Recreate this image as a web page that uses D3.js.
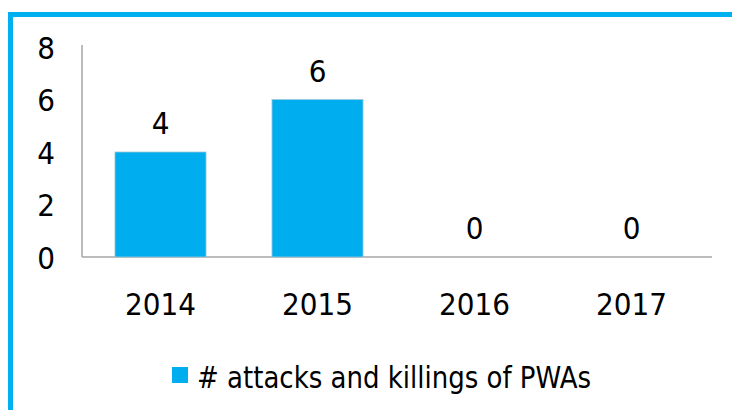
<!DOCTYPE html>
<html>
<head>
<meta charset="utf-8">
<script src="https://cdn.jsdelivr.net/npm/d3@7"></script>
<style>
  body { margin: 0; background: #fff; }
  svg { display: block; }
  text { font-family: "DejaVu Sans Condensed", "Liberation Sans", sans-serif; fill: #000; }
</style>
</head>
<body>
<svg id="chart"></svg>
<script>
const years = ['2014', '2015', '2016', '2017'];
const attacks = [4, 6, 0, 0];
const yTicks = [0, 2, 4, 6, 8];
const seriesName = '# attacks and killings of PWAs';

const width = 732, height = 410;
const blue = '#00AEEF';

const svg = d3.select('#chart')
    .attr('width', width)
    .attr('height', height);

// frame in blue, cut off at the right and bottom
svg.append('rect')
    .attr('x', 10.5).attr('y', 14.5)
    .attr('width', width + 20).attr('height', height + 20)
    .attr('fill', '#fff')
    .attr('stroke', '#00B0F0')
    .attr('stroke-width', 5);

const x = d3.scaleBand()
    .domain(years)
    .range([82, 710])
    .paddingInner(0.42)
    .paddingOuter(0.21);

const y = d3.scaleLinear()
    .domain([0, 8])
    .range([257, 47]);

// axes lines
svg.append('line')
    .attr('x1', 82).attr('x2', 82)
    .attr('y1', 45).attr('y2', y(0))
    .attr('stroke', '#a6a6a6').attr('stroke-width', 1.5);
svg.append('line')
    .attr('x1', 82).attr('x2', 712)
    .attr('y1', y(0)).attr('y2', y(0))
    .attr('stroke', '#a6a6a6').attr('stroke-width', 1.5);

// y tick labels
svg.append('g').selectAll('text')
    .data(yTicks)
    .enter().append('text')
    .attr('x', 46)
    .attr('y', d => y(d) + 11.5)
    .attr('text-anchor', 'middle')
    .style('font-size', '31px')
    .text(d => d);

// x tick labels
svg.append('g').selectAll('text')
    .data(years)
    .enter().append('text')
    .attr('x', d => x(d) + x.bandwidth() / 2)
    .attr('y', 315)
    .attr('text-anchor', 'middle')
    .style('font-size', '31px')
    .text(d => d);

// bars
svg.append('g').selectAll('rect')
    .data(attacks)
    .enter().append('rect')
    .attr('x', (d, i) => x(years[i]))
    .attr('y', d => y(d))
    .attr('width', x.bandwidth())
    .attr('height', d => y(0) - y(d))
    .attr('fill', blue)
    .attr('stroke', '#9ec9d9')
    .attr('stroke-width', d => d > 0 ? 0.8 : 0);

// value labels
svg.append('g').selectAll('text')
    .data(attacks)
    .enter().append('text')
    .attr('x', (d, i) => x(years[i]) + x.bandwidth() / 2)
    .attr('y', d => y(d) - 18)
    .attr('text-anchor', 'middle')
    .style('font-size', '31px')
    .text(d => d);

// legend
svg.append('rect')
    .attr('x', 172).attr('y', 367)
    .attr('width', 16).attr('height', 16)
    .attr('fill', blue);
svg.append('text')
    .attr('x', 197).attr('y', 388)
    .style('font-size', '31px')
    .attr('textLength', 394)
    .attr('lengthAdjust', 'spacingAndGlyphs')
    .text(seriesName);
</script>
</body>
</html>
